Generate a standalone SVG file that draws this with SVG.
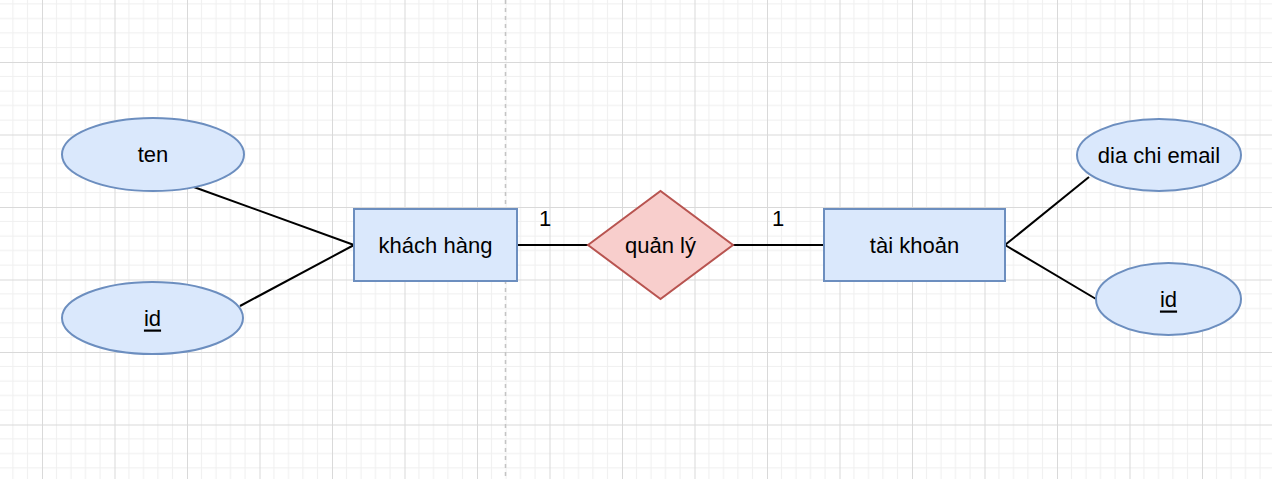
<svg xmlns="http://www.w3.org/2000/svg" width="1272" height="479" viewBox="0 0 1272 479">
<defs>
<pattern id="grid" patternUnits="userSpaceOnUse" x="42" y="62" width="72.5" height="72.5">
<path d="M14.5 0V72.5M29 0V72.5M43.5 0V72.5M58 0V72.5M0 14.5H72.5M0 29H72.5M0 43.5H72.5M0 58H72.5" stroke="#efefef" stroke-width="1" fill="none"/>
<path d="M0.5 0V72.5M0 0.5H72.5" stroke="#d9d9d9" stroke-width="1" fill="none"/>
</pattern>
<style>
.ent{fill:#dae8fc;stroke:#6c8ebf;stroke-width:2}
.rel{fill:#f8cecc;stroke:#b85450;stroke-width:2}
.lbl{font-family:"Liberation Sans",Arial,sans-serif;font-size:22px;fill:#000;text-anchor:middle;dominant-baseline:central}
.con{stroke:#000;stroke-width:2;fill:none}
</style>
</defs>
<rect width="1272" height="479" fill="#fff"/>
<rect width="1272" height="479" fill="url(#grid)"/>
<line x1="505.5" y1="0" x2="505.5" y2="479" stroke="#c4c4c4" stroke-width="1.5" stroke-dasharray="4 4"/>
<g id="connectors">
<line class="con" x1="191" y1="186" x2="354" y2="245"/>
<line class="con" x1="240" y1="306" x2="354" y2="245"/>
<line class="con" x1="517" y1="245" x2="588" y2="245"/>
<line class="con" x1="733" y1="245" x2="824" y2="245"/>
<line class="con" x1="1005" y1="245" x2="1089" y2="177"/>
<line class="con" x1="1005" y1="245" x2="1096" y2="299"/>
<text class="lbl" x="545" y="218">1</text>
<text class="lbl" x="778" y="218">1</text>
</g>
<g id="ten">
<ellipse class="ent" cx="153" cy="154.5" rx="91" ry="36.5"/>
<text class="lbl" x="153" y="154.5">ten</text>
</g>
<g id="id-khach">
<ellipse class="ent" cx="152.5" cy="318" rx="90.5" ry="36"/>
<text class="lbl" x="152.5" y="318" text-decoration="underline">id</text>
</g>
<g id="khach-hang">
<rect class="ent" x="354" y="209" width="163" height="72"/>
<text class="lbl" x="435.5" y="245">khách hàng</text>
</g>
<g id="quan-ly">
<polygon class="rel" points="588,245 660.5,191 733,245 660.5,299"/>
<text class="lbl" x="660.5" y="245">quản lý</text>
</g>
<g id="tai-khoan">
<rect class="ent" x="824" y="209" width="181" height="72"/>
<text class="lbl" x="914.5" y="245">tài khoản</text>
</g>
<g id="dia-chi-email">
<ellipse class="ent" cx="1159" cy="155" rx="82" ry="36"/>
<text class="lbl" x="1159" y="155">dia chi email</text>
</g>
<g id="id-taikhoan">
<ellipse class="ent" cx="1168.5" cy="299" rx="72.5" ry="36"/>
<text class="lbl" x="1168.5" y="299" text-decoration="underline">id</text>
</g>
</svg>
